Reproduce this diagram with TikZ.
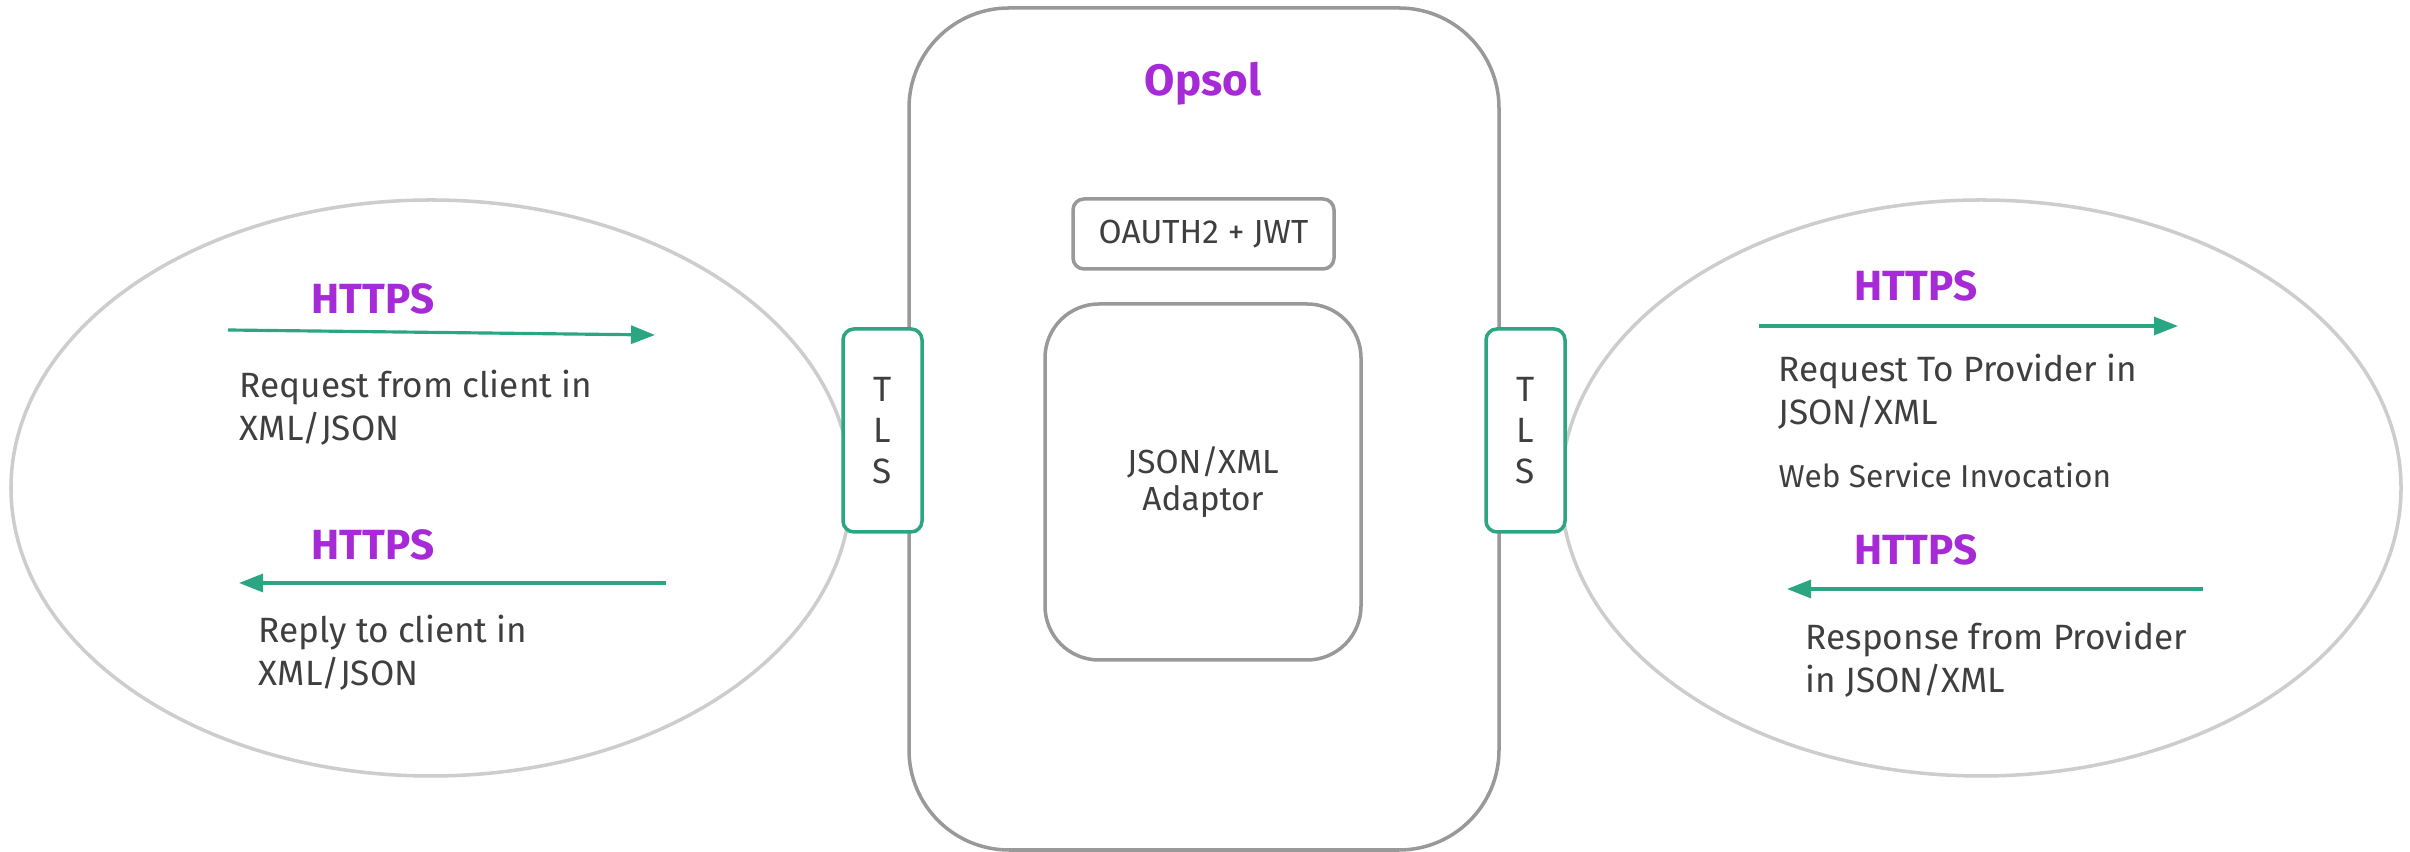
\documentclass[tikz,border=0pt]{standalone}
\usepackage{fontspec}
\setmainfont{Fira Sans}
\usetikzlibrary{positioning, arrows.meta, shapes.geometric, calc}
\definecolor{opsolpurple}{RGB}{166,43,214}
\definecolor{tlsgreen}{RGB}{43,165,130}
\definecolor{boxgray}{RGB}{153,153,153}
\definecolor{ovalgray}{RGB}{205,205,205}
\definecolor{txtgray}{RGB}{63,63,63}

\begin{document}
\begin{tikzpicture}[
    zone/.style={draw=ovalgray, ellipse, line width=1pt, inner sep=0pt, minimum width=8.4cm, minimum height=5.76cm},
    frame/.style={draw=boxgray, rectangle, line width=1pt, inner sep=0pt, fill=white, text=txtgray},
    tls/.style={draw=tlsgreen, rectangle, rounded corners=0.11cm, line width=1pt, fill=white, text=txtgray, minimum width=0.79cm, minimum height=2.03cm, inner sep=0pt, align=center, font=\fontsize{10}{11.7}\selectfont},
    proto/.style={font=\fontsize{12}{14}\selectfont\bfseries, text=opsolpurple},
    msg/.style={font=\fontsize{10}{12.5}\selectfont, text=txtgray, align=left, anchor=base west, inner sep=0pt},
    flux/.style={-{Triangle[length=2.4mm, width=1.8mm]}, line width=0.9pt, tlsgreen}
]
    \useasboundingbox (0,0) rectangle (24.1,8.52);

    % Zones client et fournisseur
    \node[zone] (clientzone) at (4.31,3.64) {};
    \node[zone] (providerzone) at (19.81,3.64) {};

    % Opsol
    \node[frame, rounded corners=1cm, minimum width=5.9cm, minimum height=8.42cm] (opsol) at (12.04,4.23) {};
    \node[font=\fontsize{12.5}{15}\selectfont\bfseries, text=opsolpurple] (opsoltitle) at (12.03,7.68) {Opsol};
    \node[frame, rounded corners=0.11cm, minimum width=2.61cm, minimum height=0.7cm, font=\fontsize{9.5}{11}\selectfont] (auth) at (12.035,6.18) {OAUTH2 + JWT};
    \node[frame, rounded corners=0.54cm, minimum width=3.16cm, minimum height=3.56cm, align=center, font=\fontsize{9.5}{10.5}\selectfont] (adaptor) at (12.03,3.70) {JSON/XML\\Adaptor};

    % TLS
    \node[tls] (tlsleft) at (8.825,4.215) {T\\L\\S};
    \node[tls] (tlsright) at (15.255,4.215) {T\\L\\S};

    % Cote client
    \node[proto] (lhttpsreq) at (3.73,5.53) {HTTPS};
    \coordinate (lreqfrom) at (2.28,5.22);
    \coordinate (lreqto) at (6.55,5.17);
    \draw[flux] (lreqfrom) -- (lreqto);
    \node[msg] (lreqtext) at (2.39,4.11) {Request from client in\\XML/JSON};

    \node[proto] (lhttpsrep) at (3.73,3.07) {HTTPS};
    \coordinate (lrepfrom) at (6.66,2.69);
    \coordinate (lrepto) at (2.39,2.69);
    \draw[flux] (lrepfrom) -- (lrepto);
    \node[msg] (lreptext) at (2.58,1.66) {Reply to client in\\XML/JSON};

    % Cote fournisseur
    \node[proto] (rhttpsreq) at (19.16,5.66) {HTTPS};
    \coordinate (rreqfrom) at (17.59,5.26);
    \coordinate (rreqto) at (21.78,5.26);
    \draw[flux] (rreqfrom) -- (rreqto);
    \node[msg] (rreqtext) at (17.78,4.27) {Request To Provider in\\JSON/XML};
    \node[msg, font=\fontsize{9}{11}\selectfont] (wsinvoke) at (17.78,3.64) {Web Service Invocation};

    \node[proto] (rhttpsrep) at (19.16,3.02) {HTTPS};
    \coordinate (rrepfrom) at (22.03,2.63);
    \coordinate (rrepto) at (17.87,2.63);
    \draw[flux] (rrepfrom) -- (rrepto);
    \node[msg] (rreptext) at (18.05,1.59) {Response from Provider\\in JSON/XML};
\end{tikzpicture}
\end{document}
